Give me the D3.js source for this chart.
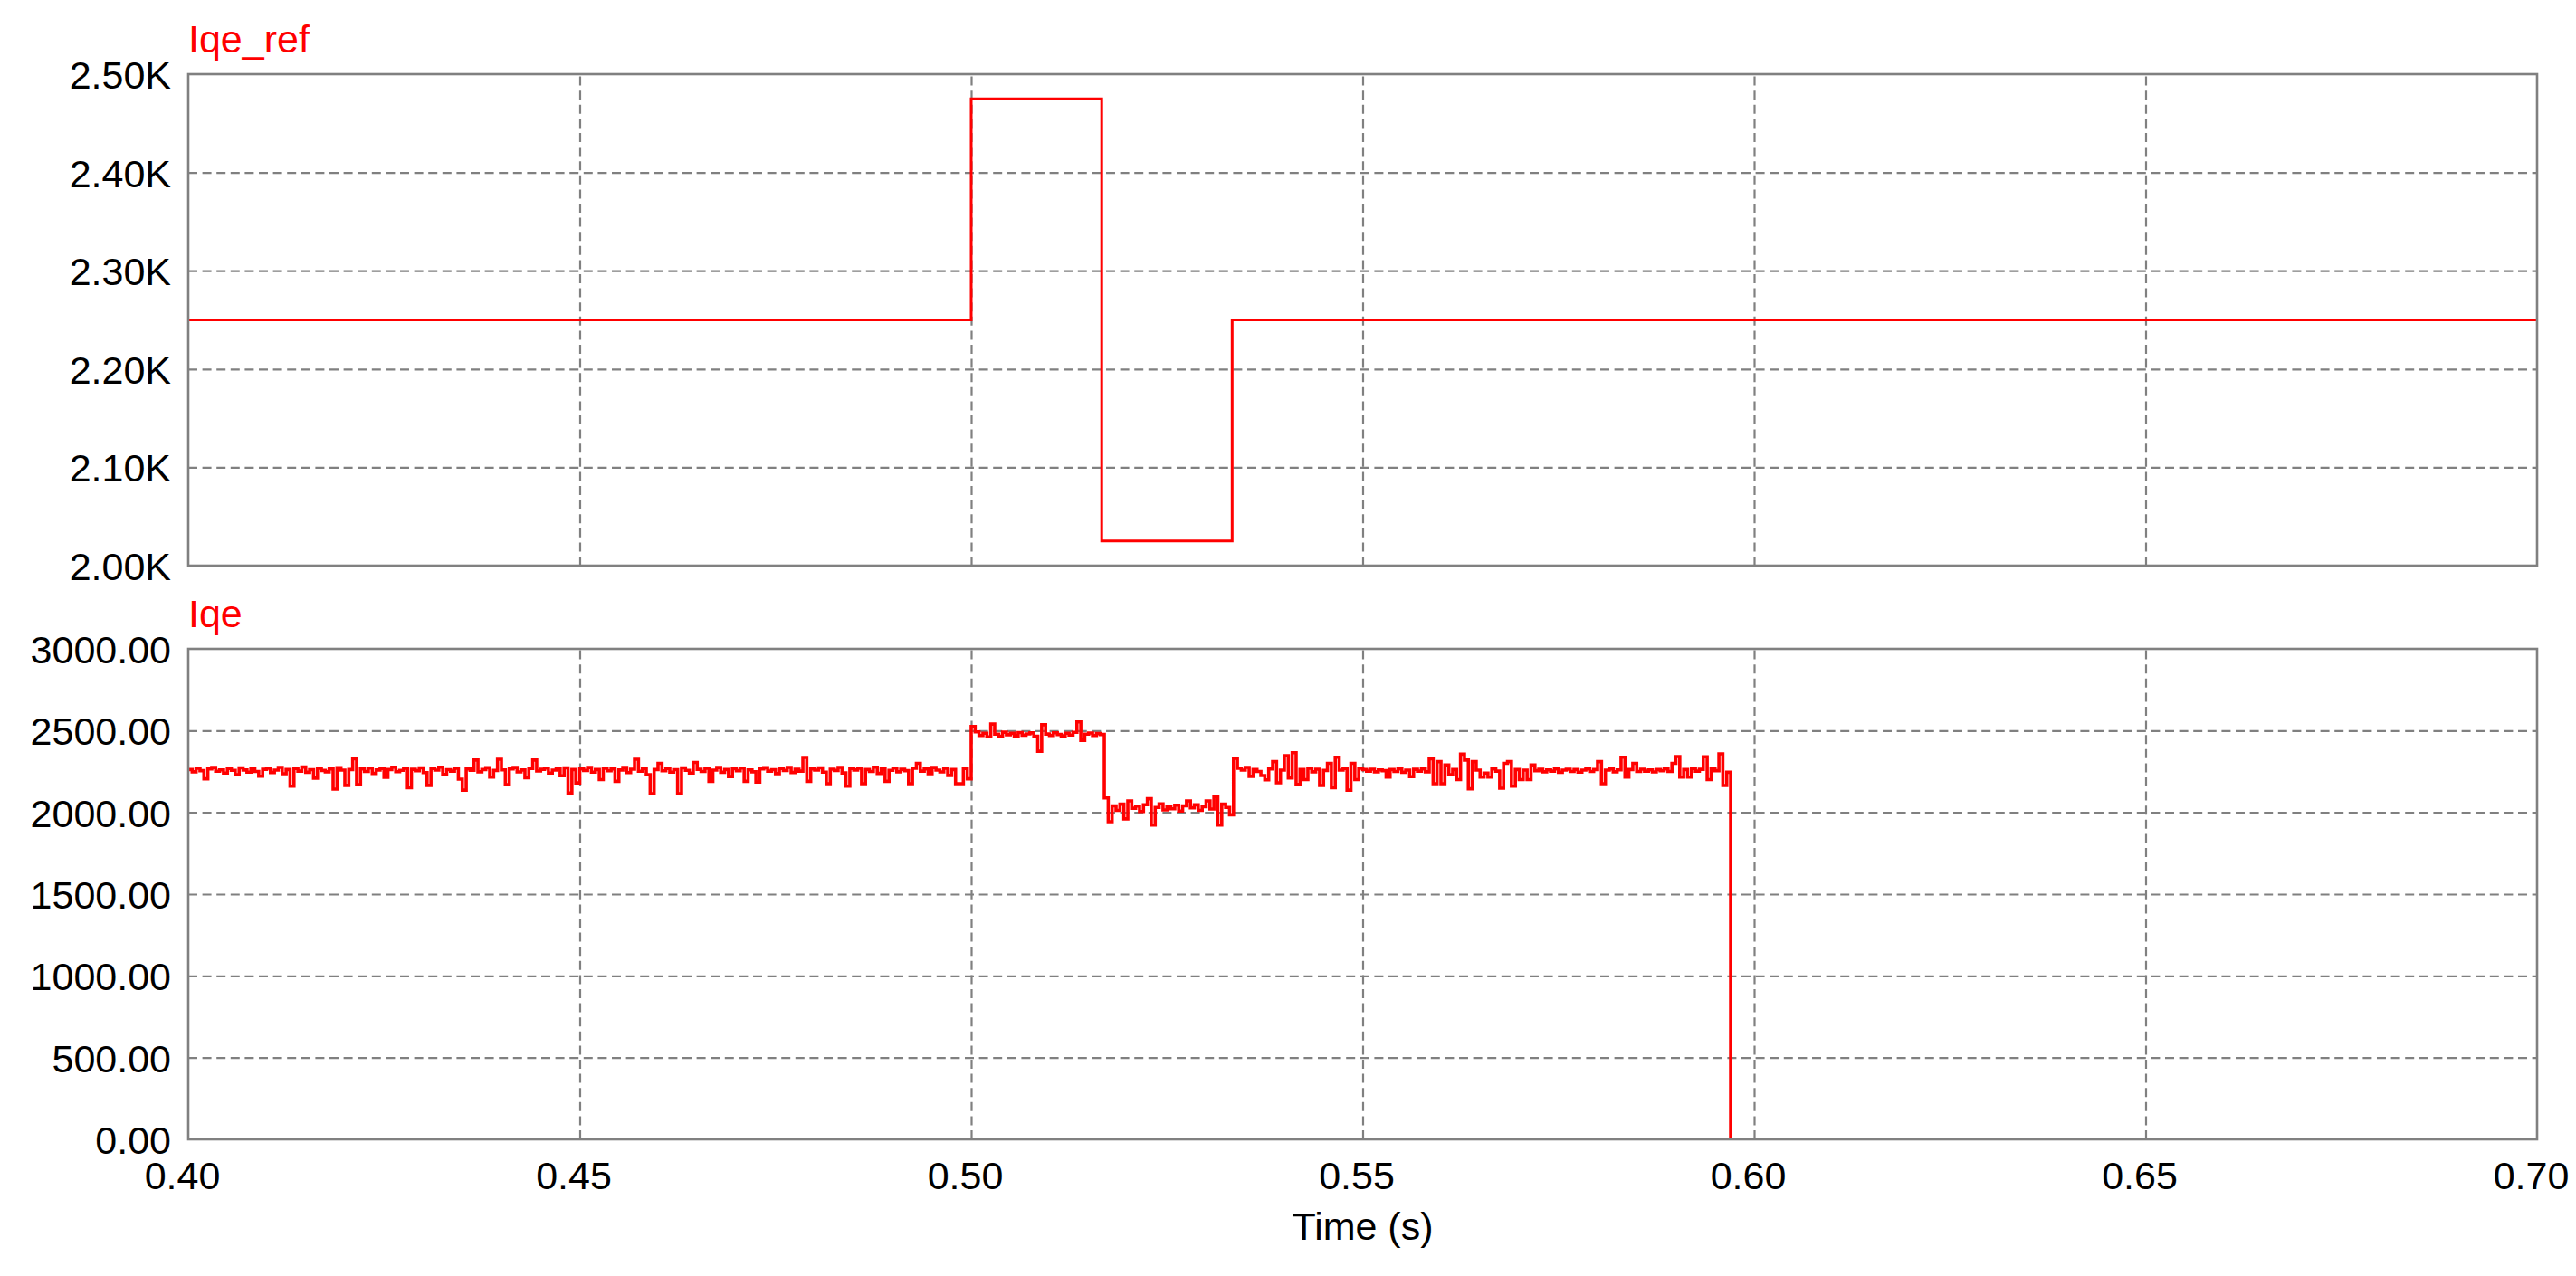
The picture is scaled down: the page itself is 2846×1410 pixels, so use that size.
<!DOCTYPE html>
<html><head><meta charset="utf-8">
<script src="https://cdn.jsdelivr.net/npm/d3@7"></script>
<style>html,body{margin:0;padding:0;background:#fff;} svg{display:block;}</style>
</head><body>
<script>
// ---------- data ----------
const refTime  = [0.40, 0.50, 0.51667, 0.53333, 0.70];
const refValue = [2250, 2475, 2025, 2250, 2250];

const iqeStart = 0.400;   // first sample time (s)
const iqeStep  = 0.0005;  // sampling interval (s)
const iqeBefore = [ // 0.400 .. 0.4995
 2262,2248,2270,2255,2205,2266,2274,2251,2260,2240,2268,2257,2230,2272,2259,2246,2265,2250,2221,2263,
 2270,2244,2258,2275,2236,2262,2160,2268,2252,2277,2245,2261,2209,2270,2256,2248,2266,2142,2273,2258,
 2165,2262,2328,2170,2266,2250,2271,2238,2259,2268,2214,2262,2276,2249,2257,2270,2150,2263,2255,2272,
 2243,2165,2268,2258,2276,2232,2261,2252,2270,2203,2136,2266,2257,2320,2248,2262,2273,2215,2256,2325,
 2260,2170,2266,2274,2247,2259,2211,2268,2320,2253,2263,2271,2240,2258,2266,2224,2272,2118,2262,2180,
 2265,2256,2274,2246,2262,2200,2270,2254,2266,2190,2259,2275,2243,2264,2325,2251,2268,2230,2114,2262,
 2300,2254,2268,2246,2261,2114,2272,2257,2240,2305,2263,2250,2269,2190,2258,2274,2245,2262,2219,2267,
 2255,2271,2190,2260,2248,2185,2266,2273,2252,2261,2237,2268,2256,2275,2244,2263,2252,2336,2190,2266,
 2258,2272,2246,2175,2264,2256,2275,2241,2160,2268,2259,2270,2175,2262,2250,2276,2238,2265,2190,2257,
 2271,2248,2263,2255,2175,2269,2300,2252,2266,2236,2274,2258,2247,2270,2226,2262,2175,2175,2268,2205
];
const iqeHigh = [ // 0.5000 .. 0.5165
 2525,2492,2470,2484,2462,2540,2478,2466,2490,2475,2483,2468,2488,2472,2480,2486,2465,2374,2536,2479,
 2470,2487,2476,2468,2484,2473,2489,2553,2440,2478,2485,2470,2482,2476
];
const iqeLow = [ // 0.5170 .. 0.5330
 2088,1943,2040,2012,2050,1960,2070,2025,2038,2005,2047,2083,1922,2030,2052,2015,2036,2022,2044,2008,
 2040,2070,2028,2046,2012,2035,2070,2020,2098,1922,2050,2030,1985
];
const iqeAfter = [ // 0.5335 .. 0.5970
 2330,2270,2258,2275,2220,2262,2250,2225,2199,2266,
 2310,2181,2258,2347,2210,2365,2171,2262,2200,2270,
 2248,2264,2164,2256,2300,2150,2337,2258,2268,2136,
 2300,2200,2270,2262,2252,2264,2248,2260,2255,2215,
 2262,2250,2265,2245,2258,2218,2263,2252,2266,2248,
 2328,2175,2310,2175,2290,2230,2262,2200,2356,2320,
 2144,2310,2258,2215,2240,2215,2266,2252,2148,2300,
 2310,2160,2262,2200,2258,2200,2290,2255,2264,2248,
 2260,2252,2266,2245,2258,2264,2250,2262,2246,2258,
 2265,2250,2262,2310,2175,2258,2266,2248,2260,2337,
 2215,2262,2300,2250,2264,2252,2260,2247,2262,2255,
 2266,2250,2300,2341,2215,2262,2215,2268,2252,2263,
 2340,2200,2270,2255,2358,2164,2245,0
];
const iqeValues = iqeBefore.concat(iqeHigh, iqeLow, iqeAfter);

const xTicks   = [0.40, 0.45, 0.50, 0.55, 0.60, 0.65, 0.70];
const refTicks = [2000, 2100, 2200, 2300, 2400, 2500];
const iqeTicks = [0, 500, 1000, 1500, 2000, 2500, 3000];

// ---------- layout ----------
const W = 2846, H = 1410;
const L = 208, R = 2803;
const P1 = {top: 82, bottom: 625};
const P2 = {top: 717, bottom: 1259};
const FONT = "'Liberation Sans', Arial, sans-serif";
const FS = 43;
const GRID = "#808080";

const svg = d3.select("body").append("svg").attr("width", W).attr("height", H)
  .style("font-family", FONT);

const x = d3.scaleLinear().domain([0.40, 0.70]).range([L, R]);
const y1 = d3.scaleLinear().domain([2000, 2500]).range([P1.bottom, P1.top]);
const y2 = d3.scaleLinear().domain([0, 3000]).range([P2.bottom, P2.top]);

function panel(y, ticks, fmt, P, title) {
  const g = svg.append("g");
  g.append("g").attr("transform", `translate(${L},0)`)
    .call(d3.axisLeft(y).tickValues(ticks.slice(1, -1)).tickSize(-(R - L)).tickFormat(""))
    .call(s => { s.select(".domain").remove();
      s.selectAll("line").attr("stroke", GRID).attr("stroke-width", 2.2).attr("stroke-dasharray", "10,5.6"); });
  g.append("g").attr("transform", `translate(0,${P.bottom})`)
    .call(d3.axisBottom(x).tickValues(xTicks.slice(1, -1)).tickSize(-(P.bottom - P.top)).tickFormat(""))
    .call(s => { s.select(".domain").remove();
      s.selectAll("line").attr("stroke", GRID).attr("stroke-width", 2.2).attr("stroke-dasharray", "10,5.6"); });
  g.append("g").attr("transform", `translate(${L},0)`)
    .call(d3.axisLeft(y).tickValues(ticks).tickSize(0).tickPadding(19).tickFormat(fmt))
    .call(s => { s.select(".domain").remove();
      s.selectAll("text").attr("font-size", FS).attr("font-family", FONT).attr("fill", "#000").attr("dy", "0.36em"); });
  g.append("text").attr("x", L).attr("y", P.top - 24).attr("font-size", FS)
    .attr("fill", "#ff0000").text(title);
  return g;
}

panel(y1, refTicks, d => (d / 1000).toFixed(2) + "K", P1, "Iqe_ref");
panel(y2, iqeTicks, d => d.toFixed(2), P2, "Iqe");

const refData = refTime.map((t, i) => [t, refValue[i]]);
svg.append("path").datum(refData)
  .attr("fill", "none").attr("stroke", "#ff0000").attr("stroke-width", 3)
  .attr("d", d3.line().x(d => x(d[0])).y(d => y1(d[1])).curve(d3.curveStepAfter));

const iqeData = iqeValues.map((v, i) => [iqeStart + i * iqeStep, v]);
svg.append("path").datum(iqeData)
  .attr("fill", "none").attr("stroke", "#ff0000").attr("stroke-width", 3.6)
  .attr("d", d3.line().x(d => x(d[0])).y(d => y2(d[1])).curve(d3.curveStepAfter));

[P1, P2].forEach(P => {
  svg.append("rect").attr("x", L).attr("y", P.top).attr("width", R - L).attr("height", P.bottom - P.top)
    .attr("fill", "none").attr("stroke", GRID).attr("stroke-width", 2.6);
});

svg.append("g").attr("transform", `translate(-7,${P2.bottom})`)
  .call(d3.axisBottom(x).tickValues(xTicks).tickSize(0).tickPadding(24).tickFormat(d => d.toFixed(2)))
  .call(s => { s.select(".domain").remove();
    s.selectAll("text").attr("font-size", FS).attr("font-family", FONT).attr("fill", "#000"); });

svg.append("text").attr("x", (L + R) / 2).attr("y", 1370).attr("text-anchor", "middle")
  .attr("font-size", FS).attr("fill", "#000").text("Time (s)");
</script>
</body></html>
